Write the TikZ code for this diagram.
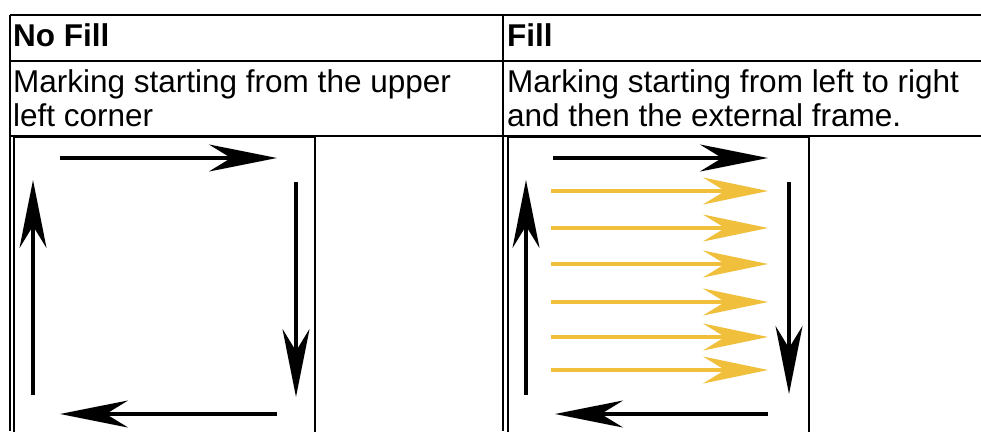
\documentclass[tikz,border=0pt]{standalone}
\usepackage{fontspec}
\setmainfont{Liberation Sans}
\usetikzlibrary{arrows.meta}
\definecolor{goldarrow}{RGB}{240,192,60}
\tikzset{
  rule/.style={line width=2pt, black},
  imgframe/.style={line width=2pt, black},
  blackarrow/.style={line width=4pt, black, -{Stealth[length=68pt, width=27pt, inset=22pt]}},
  goldline/.style={line width=3.2pt, goldarrow, -{Stealth[length=65pt, width=27pt, inset=22pt]}},
  hdtext/.style={anchor=base west, inner sep=0pt, font=\bfseries\fontsize{31.5}{35}\selectfont},
  bodytext/.style={anchor=base west, inner sep=0pt, font=\fontsize{31.5}{35}\selectfont},
}
\begin{document}
\begin{tikzpicture}[x=1pt, y=-1pt]
\useasboundingbox (0,0) rectangle (981,431);
% table rules
\draw[rule] (10,15) -- (981,15);
\draw[rule] (10,61) -- (981,61);
\draw[rule] (10,136) -- (981,136);
\draw[rule] (10,15) -- (10,431);
\draw[rule] (503,15) -- (503,431);
% texts
\node[hdtext] (h1) at (13,46) {No Fill};
\node[hdtext] (h2) at (507,46) {Fill};
\node[bodytext] (l1) at (13,92) {Marking starting from the upper};
\node[bodytext] (l2) at (13,126) {left corner};
\node[bodytext] (r1) at (507,92) {Marking starting from left to right};
\node[bodytext] (r2) at (507,126) {and then the external frame.};
% image frames
\draw[imgframe] (13.5,440) -- (13.5,137) -- (315,137) -- (315,440);
\draw[imgframe] (507.5,440) -- (507.5,137) -- (809,137) -- (809,440);
% left image arrows
\coordinate (a1s) at (60,158); \coordinate (a1e) at (277,158);
\coordinate (a2s) at (296,182); \coordinate (a2e) at (296,397);
\coordinate (a3s) at (277,414); \coordinate (a3e) at (60,414);
\coordinate (a4s) at (33,395); \coordinate (a4e) at (33,180);
\draw[blackarrow] (a1s) -- (a1e);
\draw[blackarrow] (a2s) -- (a2e);
\draw[blackarrow] (a3s) -- (a3e);
\draw[blackarrow] (a4s) -- (a4e);
% right image arrows
\coordinate (b1s) at (553,158); \coordinate (b1e) at (768,158);
\coordinate (b2s) at (789,182); \coordinate (b2e) at (789,394);
\coordinate (b3s) at (768,414); \coordinate (b3e) at (555,414);
\coordinate (b4s) at (526,395); \coordinate (b4e) at (526,180);
\foreach \yy [count=\i] in {191,228,264,302,337,370} {
  \coordinate (g\i s) at (551,\yy);
  \coordinate (g\i e) at (768,\yy);
  \draw[goldline] (g\i s) -- (g\i e);
}
\draw[blackarrow] (b1s) -- (b1e);
\draw[blackarrow] (b2s) -- (b2e);
\draw[blackarrow] (b3s) -- (b3e);
\draw[blackarrow] (b4s) -- (b4e);
\end{tikzpicture}
\end{document}
